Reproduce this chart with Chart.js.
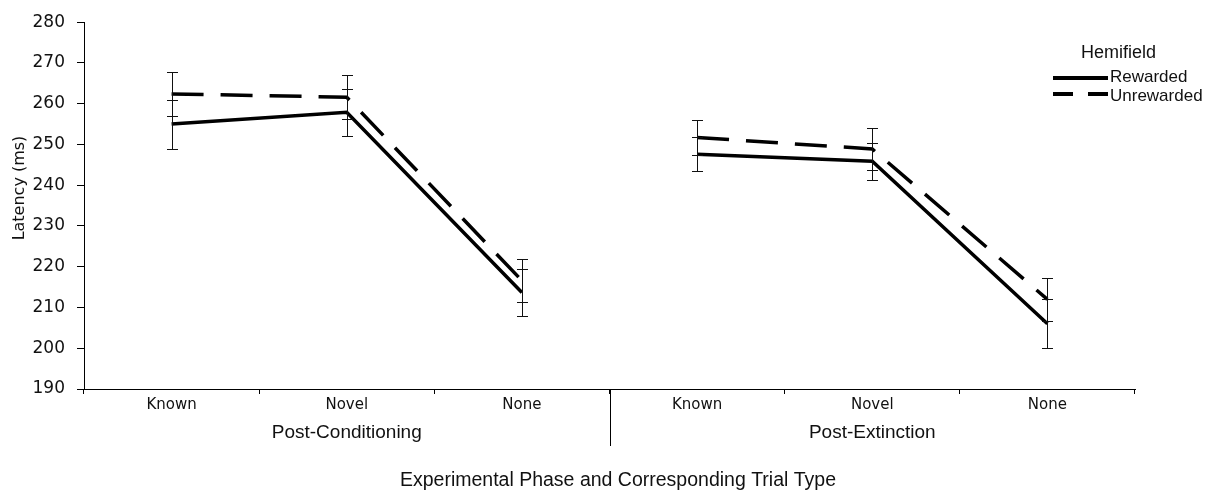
<!DOCTYPE html>
<html>
<head>
<meta charset="utf-8">
<script src="https://cdn.jsdelivr.net/npm/chart.js@4.4.1/dist/chart.umd.min.js"></script>
<style>
  html, body { margin: 0; padding: 0; background: #fff; }
  #wrap { width: 1222px; height: 492px; position: relative; }
</style>
</head>
<body>
<div id="wrap"><canvas id="chart" width="1222" height="492"></canvas></div>
<script>
// Trial types within each experimental phase
const categories = ['Known', 'Novel', 'None', 'Known', 'Novel', 'None'];
const phases = ['Post-Conditioning', 'Post-Extinction'];
const phaseSize = 3;

// Mean saccade latency (ms) and error-bar half-widths per hemifield
const seriesNames = ['Rewarded', 'Unrewarded'];
const rewarded = [255.0, 257.9, 213.7, 247.6, 245.9, 206.0];
const rewardedErr = [6.0, 5.7, 5.7, 4.2, 4.5, 6.0];
const unrewarded = [262.4, 261.6, 216.6, 251.7, 248.9, 212.0];
const unrewardedErr = [5.3, 5.4, 5.2, 4.2, 5.2, 5.3];

// Axis range and titles
const yMin = 190;
const yMax = 280;
const yStep = 10;
const yTitle = 'Latency (ms)';
const xTitle = 'Experimental Phase and Corresponding Trial Type';
const legendTitle = 'Hemifield';

const INK = '#000';
const TEXT = '#111';
const errors = [rewardedErr, unrewardedErr];

// Lines are not joined across the boundary between two phases
const phaseBreak = ctx => ((ctx.p0DataIndex + 1) % phaseSize === 0 ? 'rgba(0,0,0,0)' : undefined);

// Vertical error bars with short caps, drawn over the lines
const errorBars = {
  id: 'errorBars',
  afterDatasetsDraw(chart) {
    const ctx = chart.ctx;
    const y = chart.scales.y;
    ctx.save();
    ctx.strokeStyle = '#111';
    ctx.lineWidth = 1;
    chart.data.datasets.forEach((ds, i) => {
      const meta = chart.getDatasetMeta(i);
      ds.data.forEach((v, j) => {
        const x = Math.round(meta.data[j].x) + 0.5;
        const top = Math.round(y.getPixelForValue(v + errors[i][j])) + 0.5;
        const bot = Math.round(y.getPixelForValue(v - errors[i][j])) + 0.5;
        ctx.beginPath();
        ctx.moveTo(x, top); ctx.lineTo(x, bot);
        ctx.moveTo(x - 5.5, top); ctx.lineTo(x + 5.5, top);
        ctx.moveTo(x - 5.5, bot); ctx.lineTo(x + 5.5, bot);
        ctx.stroke();
      });
    });
    ctx.restore();
  }
};

// Phase labels, phase divider, axis titles and the legend
const annotations = {
  id: 'annotations',
  afterDraw(chart) {
    const ctx = chart.ctx;
    const xs = chart.scales.x;
    const area = chart.chartArea;
    ctx.save();
    ctx.fillStyle = TEXT;
    ctx.textBaseline = 'middle';

    // phase labels and divider between phases
    ctx.font = '19px "Liberation Sans", Arial, sans-serif';
    ctx.textAlign = 'center';
    phases.forEach((p, k) => {
      const a = xs.getPixelForValue(k * phaseSize);
      const b = xs.getPixelForValue(k * phaseSize + phaseSize - 1);
      ctx.fillText(p, (a + b) / 2, 433);
      if (k > 0) {
        const prev = xs.getPixelForValue(k * phaseSize - 1);
        const dx = Math.round((prev + a) / 2) + 0.5;
        ctx.strokeStyle = INK;
        ctx.lineWidth = 1;
        ctx.beginPath();
        ctx.moveTo(dx, area.bottom);
        ctx.lineTo(dx, 446);
        ctx.stroke();
      }
    });

    // x axis title
    ctx.font = '19.5px "Liberation Sans", Arial, sans-serif';
    ctx.fillText(xTitle, 618, 481);

    // y axis title
    ctx.save();
    ctx.translate(20, 188);
    ctx.rotate(-Math.PI / 2);
    ctx.font = '16px "DejaVu Sans", Verdana, sans-serif';
    ctx.fillText(yTitle, 0, 0);
    ctx.restore();

    // legend
    ctx.textAlign = 'left';
    ctx.font = '18px "Liberation Sans", Arial, sans-serif';
    ctx.fillText(legendTitle, 1081, 53);
    ctx.font = '17px "Liberation Sans", Arial, sans-serif';
    const lineRows = [78, 94];
    const textRows = [77.5, 96];
    chart.data.datasets.forEach((ds, i) => {
      ctx.strokeStyle = INK;
      ctx.lineWidth = 4;
      ctx.setLineDash(i === 0 ? [] : [20, 15]);
      ctx.beginPath();
      ctx.moveTo(1053, lineRows[i]);
      ctx.lineTo(1108, lineRows[i]);
      ctx.stroke();
      ctx.setLineDash([]);
      ctx.fillText(seriesNames[i], 1110, textRows[i]);
    });
    ctx.restore();
  }
};

new Chart(document.getElementById('chart'), {
  type: 'line',
  data: {
    labels: categories,
    datasets: [
      {
        label: seriesNames[0],
        data: rewarded,
        borderColor: INK,
        borderWidth: 3.5,
        pointRadius: 0,
        tension: 0,
        fill: false,
        segment: { borderColor: phaseBreak }
      },
      {
        label: seriesNames[1],
        data: unrewarded,
        borderColor: INK,
        borderWidth: 3.5,
        borderDash: [32, 17],
        pointRadius: 0,
        tension: 0,
        fill: false,
        segment: { borderColor: phaseBreak }
      }
    ]
  },
  options: {
    responsive: false,
    animation: false,
    events: [],
    layout: { padding: { top: 19, right: 87, left: 0, bottom: 0 } },
    plugins: {
      legend: { display: false },
      tooltip: { enabled: false },
      title: { display: false }
    },
    scales: {
      x: {
        type: 'category',
        offset: true,
        afterFit(scale) { scale.height = 103; },
        grid: {
          display: true,
          drawOnChartArea: false,
          drawTicks: true,
          tickLength: 5,
          color: INK,
          offset: true
        },
        border: { display: true, color: INK, width: 1 },
        ticks: {
          color: TEXT,
          font: { family: '"DejaVu Sans", Verdana, sans-serif', size: 15 },
          padding: 2,
          maxRotation: 0,
          autoSkip: false
        }
      },
      y: {
        min: yMin,
        max: yMax,
        afterFit(scale) { scale.width = 84; },
        grid: {
          display: true,
          drawOnChartArea: false,
          drawTicks: true,
          tickLength: 7,
          color: INK
        },
        border: { display: true, color: INK, width: 1 },
        ticks: {
          stepSize: yStep,
          color: TEXT,
          font: { family: '"DejaVu Sans", Verdana, sans-serif', size: 17 },
          padding: 12
        }
      }
    }
  },
  plugins: [errorBars, annotations]
});
</script>
</body>
</html>
